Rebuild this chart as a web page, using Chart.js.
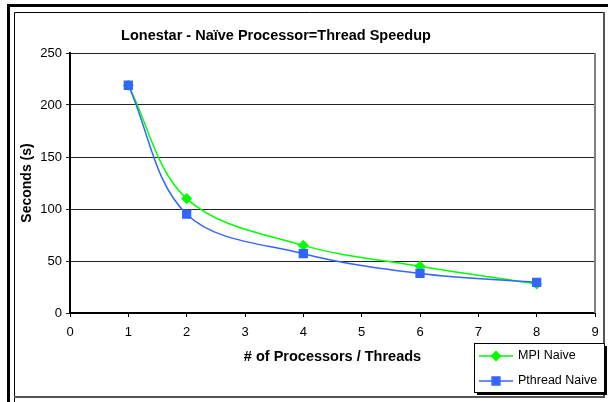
<!DOCTYPE html>
<html><head><meta charset="utf-8">
<script src="https://cdn.jsdelivr.net/npm/chart.js@4/dist/chart.umd.min.js"></script>
<style>html,body{margin:0;padding:0;background:#fff;overflow:hidden}#wrap{width:608px;height:402px;position:relative}</style>
</head><body><div id="wrap"><canvas id="c" width="608" height="402"></canvas></div>
<script>
const chartTitle = 'Lonestar - Naïve Processor=Thread Speedup';
const xTitle = '# of Processors / Threads';
const yTitle = 'Seconds (s)';
const seriesNames = ['MPI Naive', 'Pthread Naive'];
const threads = [1, 2, 4, 6, 8];
const mpiNaive = [219, 110, 65, 45, 28];
const pthreadNaive = [219, 95, 57, 38, 29.5];
const xTickValues = [0, 1, 2, 3, 4, 5, 6, 7, 8, 9];
const yTickValues = [0, 50, 100, 150, 200, 250];

const FONT = '"Liberation Sans", Arial, sans-serif';
const GREEN = '#00FF00';
const BLUE = '#3366FF';

const decor = {
  id: 'decor',
  beforeDraw(chart) {
    const ctx = chart.ctx;
    ctx.save();
    ctx.fillStyle = '#fff';
    ctx.fillRect(0, 0, 608, 402);
    ctx.fillStyle = '#000';
    ctx.fillRect(7, 4, 601, 3);
    ctx.fillRect(7, 4, 3, 398);
    ctx.strokeStyle = '#000';
    ctx.lineWidth = 1;
    ctx.beginPath();
    ctx.moveTo(14.5, 402); ctx.lineTo(14.5, 12.5); ctx.lineTo(604, 12.5);
    ctx.stroke();
    ctx.strokeStyle = '#555';
    ctx.lineWidth = 2;
    ctx.beginPath();
    ctx.moveTo(604, 12); ctx.lineTo(604, 397); ctx.lineTo(14, 397);
    ctx.stroke();
    ctx.restore();
  },
  beforeDatasetsDraw(chart) {
    const ctx = chart.ctx, a = chart.chartArea;
    ctx.save();
    ctx.strokeStyle = '#808080';
    ctx.lineWidth = 2;
    ctx.beginPath();
    ctx.moveTo(a.right, a.top); ctx.lineTo(a.right, a.bottom);
    ctx.stroke();
    ctx.restore();
  },
  afterDraw(chart) {
    const ctx = chart.ctx;
    ctx.save();
    // title
    ctx.fillStyle = '#000';
    ctx.font = 'bold 14.5px ' + FONT;
    ctx.textAlign = 'center';
    ctx.textBaseline = 'alphabetic';
    ctx.fillText(chartTitle, 276, 40);
    // legend
    const lx = 474, ly = 343, lw = 130, lh = 49;
    ctx.fillStyle = '#000';
    ctx.fillRect(lx + 3, ly + lh, lw, 3);
    ctx.fillRect(lx + lw, ly + 3, 3, lh);
    ctx.fillStyle = '#fff';
    ctx.fillRect(lx, ly, lw, lh);
    ctx.strokeStyle = '#000';
    ctx.lineWidth = 1;
    ctx.strokeRect(lx + 0.5, ly + 0.5, lw, lh);
    chart.data.datasets.forEach((ds, i) => {
      const y = 356 + 25 * i;
      ctx.strokeStyle = ds.borderColor;
      ctx.lineWidth = 1.5;
      ctx.beginPath(); ctx.moveTo(479, y); ctx.lineTo(513, y); ctx.stroke();
      ctx.fillStyle = ds.pointBackgroundColor;
      ctx.strokeStyle = ds.pointBorderColor;
      Chart.helpers.drawPoint(ctx, {pointStyle: ds.pointStyle, radius: ds.pointRadius, rotation: 0, borderWidth: 1}, 496, y);
      ctx.fillStyle = '#000';
      ctx.font = '12.5px ' + FONT;
      ctx.textAlign = 'left';
      ctx.textBaseline = 'middle';
      ctx.fillText(ds.label, 518, y);
    });
    ctx.restore();
  }
};

new Chart(document.getElementById('c'), {
  type: 'line',
  data: {
    datasets: [
      {
        label: seriesNames[0],
        data: threads.map((x, i) => ({x: x, y: mpiNaive[i]})),
        borderColor: GREEN, backgroundColor: GREEN,
        pointBackgroundColor: GREEN, pointBorderColor: GREEN,
        pointStyle: 'rectRot', pointRadius: 4.5, borderWidth: 1.5,
        tension: 0.35, fill: false, order: 1
      },
      {
        label: seriesNames[1],
        data: threads.map((x, i) => ({x: x, y: pthreadNaive[i]})),
        borderColor: BLUE, backgroundColor: BLUE,
        pointBackgroundColor: BLUE, pointBorderColor: BLUE,
        pointStyle: 'rect', pointRadius: 5.5, borderWidth: 1.5,
        tension: 0.35, fill: false, order: 0
      }
    ]
  },
  options: {
    responsive: false, animation: false, devicePixelRatio: 1,
    layout: {padding: {left: 15, top: 53, right: 13, bottom: 32}},
    plugins: {legend: {display: false}, title: {display: false}, tooltip: {enabled: false}},
    scales: {
      x: {
        type: 'linear',
        min: xTickValues[0], max: xTickValues[xTickValues.length - 1],
        afterBuildTicks(s) { s.ticks = xTickValues.map(v => ({value: v})); },
        afterFit(s) { s.height = 57; },
        ticks: {color: '#000', font: {family: FONT, size: 13}, padding: 8, maxRotation: 0},
        grid: {drawOnChartArea: false, drawTicks: true, tickLength: 4, color: '#000'},
        border: {color: '#000', width: 2},
        title: {display: true, text: xTitle, color: '#000', font: {family: FONT, size: 14.5, weight: 'bold'}, padding: {top: 0, bottom: 4}}
      },
      y: {
        type: 'linear',
        min: yTickValues[0], max: yTickValues[yTickValues.length - 1],
        afterBuildTicks(s) { s.ticks = yTickValues.map(v => ({value: v})); },
        afterFit(s) { s.width = 55; },
        ticks: {color: '#000', font: {family: FONT, size: 13}, padding: 4},
        grid: {color: '#222', lineWidth: 1, tickLength: 4},
        border: {color: '#000', width: 2},
        title: {display: true, text: yTitle, color: '#000', font: {family: FONT, size: 14, weight: 'bold'}, padding: {top: 4, bottom: 0}}
      }
    }
  },
  plugins: [decor]
});
</script>
</body></html>
